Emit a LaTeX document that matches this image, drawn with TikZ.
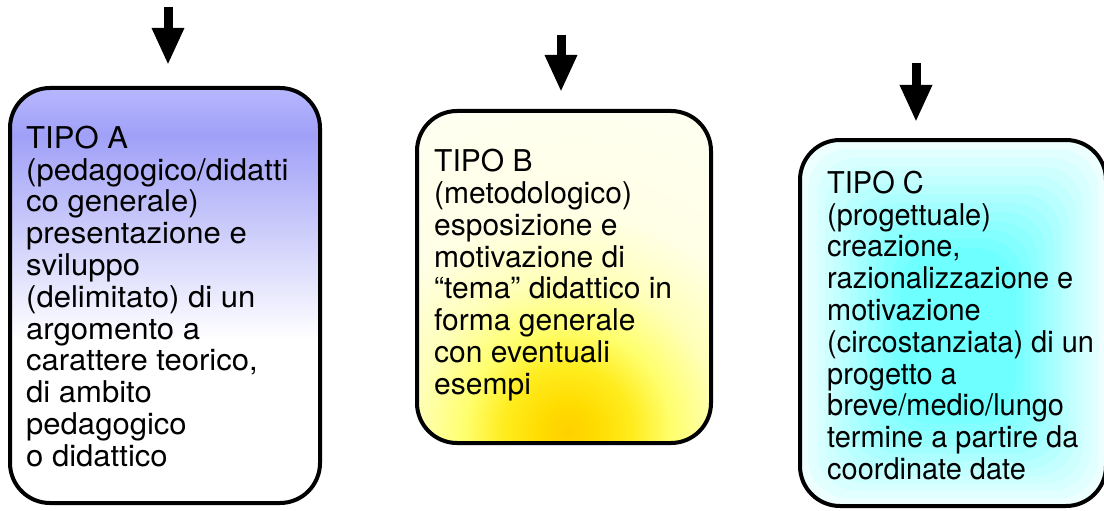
\documentclass[tikz,border=0pt]{standalone}
\usepackage{fontspec}
\setmainfont{TeX Gyre Heros}
\newfontfamily\narrowheros[FakeStretch=0.965]{TeX Gyre Heros}
\newfontfamily\wideheros[FakeStretch=1.035]{TeX Gyre Heros}
\usetikzlibrary{arrows.meta}
\definecolor{blueTop}{RGB}{184,184,255}
\definecolor{blueDark}{RGB}{160,160,248}
\definecolor{cy}{RGB}{0,255,255}
\definecolor{yc0}{RGB}{255,208,0}
\definecolor{yc1}{RGB}{255,220,0}
\definecolor{yc2}{RGB}{255,236,30}
\definecolor{yc3}{RGB}{255,255,110}
\definecolor{yc4}{RGB}{255,255,185}
\definecolor{yc5}{RGB}{255,255,230}
\definecolor{yc6}{RGB}{255,255,242}
\pgfdeclareradialshading{yglow}{\pgfpointorigin}{color(0bp)=(yc0); color(2bp)=(yc1); color(4.6bp)=(yc2); color(7.4bp)=(yc3); color(10.9bp)=(yc4); color(15.7bp)=(yc5); color(25bp)=(yc6); color(50bp)=(yc6)}
\tikzset{
  boxline/.style={draw=black, line width=4pt, rounded corners=40pt},
  boxtext/.style={inner sep=0pt, anchor=base west, align=left, font=\fontsize{30}{31.8}\selectfont},
  downarrow/.style={line width=9pt, -{Triangle[width=30pt,length=37pt]}}
}
\begin{document}
\begin{tikzpicture}[x=1pt,y=-1pt]
\useasboundingbox (0,0) rectangle (1104,511);
% ---- Box A: vertical blue gradient
\begin{scope}
  \clip[rounded corners=40pt] (10,88) rectangle (320,503);
  \fill[white] (10,88) rectangle (320,503);
  \shade[top color=blueTop, bottom color=blueDark] (10,86) rectangle (320,135);
  \shade[top color=blueDark, bottom color=white] (10,135) rectangle (320,340);
\end{scope}
\draw[boxline] (10,88) rectangle (320,503);
% ---- Box B: radial yellow glow from bottom centre
\begin{scope}
  \clip[rounded corners=40pt] (417,111) rectangle (711,443);
  \fill[yc6] (417,111) rectangle (711,443);
  \shade[shading=yglow] (218,82) rectangle (918,782);
\end{scope}
\draw[boxline] (417,111) rectangle (711,443);
% ---- Box C: rectangular cyan gradient
\begin{scope}
  \clip[rounded corners=40pt] (800,140) rectangle (1106,506);
  \foreach \i in {0,...,12}{
    \pgfmathsetmacro{\t}{\i/12}
    \pgfmathsetmacro{\xa}{800+\t*(900-800)}
    \pgfmathsetmacro{\xb}{1106+\t*(1016-1106)}
    \pgfmathsetmacro{\ya}{140+\t*(248-140)}
    \pgfmathsetmacro{\yb}{506+\t*(416-506)}
    \pgfmathsetmacro{\c}{7+\t*50}
    \fill[cy!\c!white, rounded corners=40pt] (\xa,\ya) rectangle (\xb,\yb);
  }
\end{scope}
\draw[boxline] (800,140) rectangle (1106,506);
% ---- Texts (anchor = baseline of last line)
\node[boxtext, font=\wideheros\fontsize{30}{31.8}\selectfont] (tA) at (26,466.3) {TIPO A\\(pedagogico/didatti\\co generale)\\presentazione e\\sviluppo\\(delimitato) di un\\argomento a\\carattere teorico,\\di ambito\\pedagogico\\o didattico};
\node[boxtext] (tB) at (434,394.3) {TIPO B\\(metodologico)\\esposizione e\\motivazione di\\“tema” didattico in\\forma generale\\con eventuali\\esempi};
\node[boxtext, font=\narrowheros\fontsize{30}{31.8}\selectfont] (tC) at (827,479.5) {TIPO C\\(progettuale)\\creazione,\\razionalizzazione e\\motivazione\\(circostanziata) di un\\progetto a\\breve/medio/lungo\\termine a partire da\\coordinate date};
% ---- Arrows
\coordinate (aAs) at (168,7);
\coordinate (aAe) at (168,65);
\coordinate (aBs) at (561,35);
\coordinate (aBe) at (561,92);
\coordinate (aCs) at (916,63);
\coordinate (aCe) at (916,122);
\draw[downarrow] (aAs) -- (aAe);
\draw[downarrow] (aBs) -- (aBe);
\draw[downarrow] (aCs) -- (aCe);
\end{tikzpicture}
\end{document}
